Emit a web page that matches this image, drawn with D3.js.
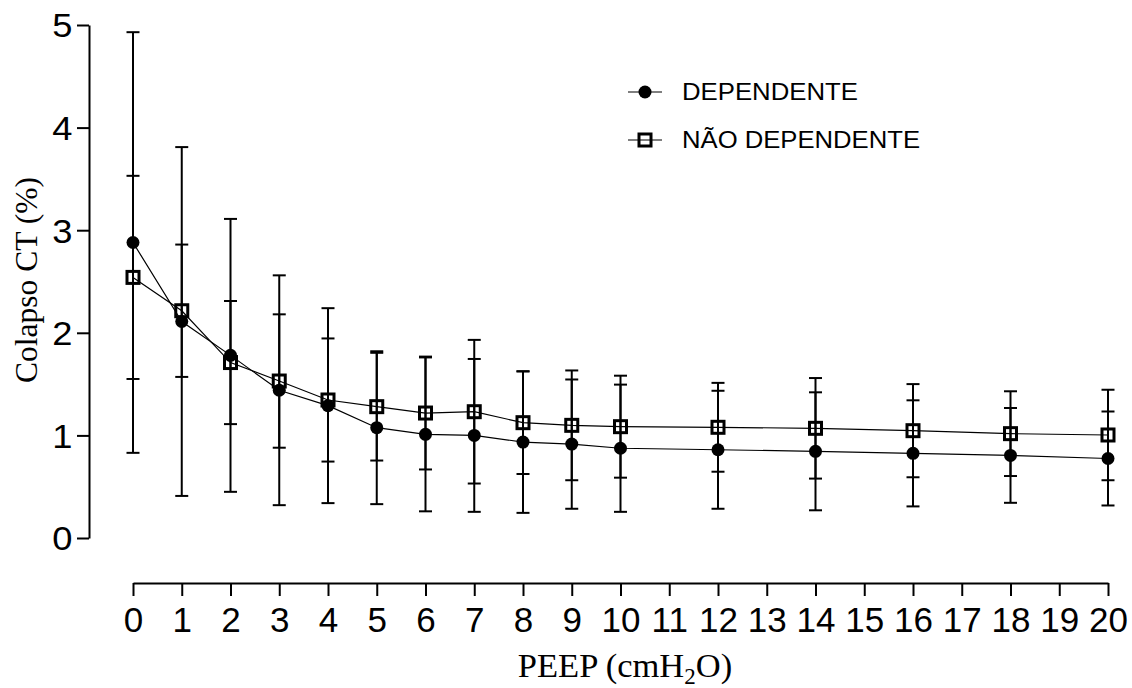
<!DOCTYPE html>
<html>
<head>
<meta charset="utf-8">
<script src="https://cdn.jsdelivr.net/npm/d3@7"></script>
<style>
  body { margin: 0; background: #fff; }
  svg { display: block; }
</style>
</head>
<body>
<svg id="chart"></svg>
<script>
var svg_width = 1132
var svg_height = 688

// DATA
var peep = [0, 1, 2, 3, 4, 5, 6, 7, 8, 9, 10, 12, 14, 16, 18, 20];
var depMean = [2.88, 2.11, 1.78, 1.44, 1.29, 1.075, 1.01, 1.0, 0.935, 0.915, 0.875, 0.86, 0.845, 0.825, 0.805, 0.775];
var depSd = [2.05, 1.70, 1.33, 1.12, 0.95, 0.745, 0.75, 0.745, 0.69, 0.63, 0.62, 0.575, 0.575, 0.517, 0.462, 0.458];
var ndMean = [2.54, 2.215, 1.71, 1.53, 1.345, 1.28, 1.218, 1.231, 1.124, 1.098, 1.085, 1.079, 1.069, 1.046, 1.017, 1.004];
var ndSd = [0.99, 0.645, 0.60, 0.65, 0.60, 0.525, 0.55, 0.70, 0.50, 0.535, 0.497, 0.433, 0.49, 0.454, 0.413, 0.441];
var xTicks = d3.range(0, 21);
var yTicks = [0, 1, 2, 3, 4, 5];
var seriesNames = ["DEPENDENTE", "NÃO DEPENDENTE"];

var sans = "'Liberation Sans', Arial, sans-serif";
var serif = "'Liberation Serif', 'Times New Roman', serif";

var dep = peep.map(function(p, i) { return {x: p, m: depMean[i], sd: depSd[i]}; });
var nd = peep.map(function(p, i) { return {x: p, m: ndMean[i], sd: ndSd[i]}; });

//SCALES
var xScale = d3.scaleLinear().domain([0, 20]).range([133, 1108]);
var yScale = d3.scaleLinear().domain([0, 5]).range([538, 25]);

var svg = d3.select("#chart")
    .attr("width", svg_width)
    .attr("height", svg_height);

// AXES
var yAxis = d3.axisLeft(yScale).tickValues(yTicks).tickSize(12).tickSizeOuter(0)
              .tickFormat(d3.format("d"));
var gy = svg.append("g")
    .attr("transform", "translate(89, 0)")
    .call(yAxis);
gy.select(".domain").attr("stroke-width", 2);
gy.selectAll(".tick line").attr("stroke-width", 2);
gy.selectAll(".tick text")
    .attr("font-family", sans)
    .attr("font-size", 33)
    .attr("fill", "#000")
    .attr("x", -15)
    .attr("dy", "0.36em")
    .attr("transform", "scale(1.1,1)");

var xAxis = d3.axisBottom(xScale).tickValues(xTicks).tickSize(13).tickSizeOuter(0)
              .tickFormat(d3.format("d"));
var gx = svg.append("g")
    .attr("transform", "translate(0, 583)")
    .call(xAxis);
gx.select(".domain").attr("stroke-width", 2);
gx.selectAll(".tick line").attr("stroke-width", 2);
gx.selectAll(".tick text")
    .attr("font-family", sans)
    .attr("font-size", 35)
    .attr("fill", "#000")
    .attr("y", 49)
    .attr("dy", 0);

// ERROR BARS
function errorBars(data) {
    var g = svg.append("g").attr("stroke", "#000").attr("stroke-width", 2);
    g.selectAll("line.v").data(data).enter().append("line")
        .attr("x1", function(d) { return xScale(d.x); })
        .attr("x2", function(d) { return xScale(d.x); })
        .attr("y1", function(d) { return yScale(d.m - d.sd); })
        .attr("y2", function(d) { return yScale(d.m + d.sd); });
    [-1, 1].forEach(function(s) {
        g.selectAll(null).data(data).enter().append("line")
            .attr("x1", function(d) { return xScale(d.x) - 6.5; })
            .attr("x2", function(d) { return xScale(d.x) + 6.5; })
            .attr("y1", function(d) { return yScale(d.m + s * d.sd); })
            .attr("y2", function(d) { return yScale(d.m + s * d.sd); });
    });
}
errorBars(dep);
errorBars(nd);

// LINES
var line = d3.line()
    .x(function(d) { return xScale(d.x); })
    .y(function(d) { return yScale(d.m); });
[dep, nd].forEach(function(data) {
    svg.append("path")
        .datum(data)
        .attr("d", line)
        .attr("fill", "none")
        .attr("stroke", "#000")
        .attr("stroke-width", 1.2);
});

// MARKERS
svg.append("g").selectAll("circle").data(dep).enter().append("circle")
    .attr("cx", function(d) { return xScale(d.x); })
    .attr("cy", function(d) { return yScale(d.m); })
    .attr("r", 6.5)
    .attr("fill", "#000");

svg.append("g").selectAll("rect").data(nd).enter().append("rect")
    .attr("x", function(d) { return xScale(d.x) - 6; })
    .attr("y", function(d) { return yScale(d.m) - 6; })
    .attr("width", 12)
    .attr("height", 12)
    .attr("fill", "none")
    .attr("stroke", "#000")
    .attr("stroke-width", 3);

// LEGEND
var legendY = [92, 140];
var lg = svg.append("g");
legendY.forEach(function(y, i) {
    lg.append("line")
        .attr("x1", 628).attr("x2", 662)
        .attr("y1", y).attr("y2", y)
        .attr("stroke", "#000").attr("stroke-width", 1.2);
    if (i === 0) {
        lg.append("circle").attr("cx", 645).attr("cy", y).attr("r", 6.5).attr("fill", "#000");
    } else {
        lg.append("rect").attr("x", 639).attr("y", y - 6).attr("width", 12).attr("height", 12)
            .attr("fill", "none").attr("stroke", "#000").attr("stroke-width", 3);
    }
    lg.append("text")
        .attr("x", 682)
        .attr("y", y)
        .attr("dy", "0.36em")
        .attr("font-family", sans)
        .attr("font-size", 23.5)
        .attr("textLength", i === 0 ? 176 : 238)
        .attr("lengthAdjust", "spacingAndGlyphs")
        .text(seriesNames[i]);
});

// AXIS TITLES
svg.append("text")
    .attr("transform", "rotate(-90)")
    .attr("x", -280)
    .attr("y", 37)
    .attr("text-anchor", "middle")
    .attr("font-family", serif)
    .attr("font-size", 32)
    .attr("textLength", 206)
    .attr("lengthAdjust", "spacingAndGlyphs")
    .text("Colapso CT (%)");

var xt = svg.append("text")
    .attr("x", 625)
    .attr("y", 677)
    .attr("text-anchor", "middle")
    .attr("font-family", serif)
    .attr("font-size", 34.5);
xt.append("tspan").text("PEEP (cmH");
xt.append("tspan").attr("font-size", 23).attr("dy", 7).text("2");
xt.append("tspan").attr("dy", -7).text("O)");
</script>
</body>
</html>
